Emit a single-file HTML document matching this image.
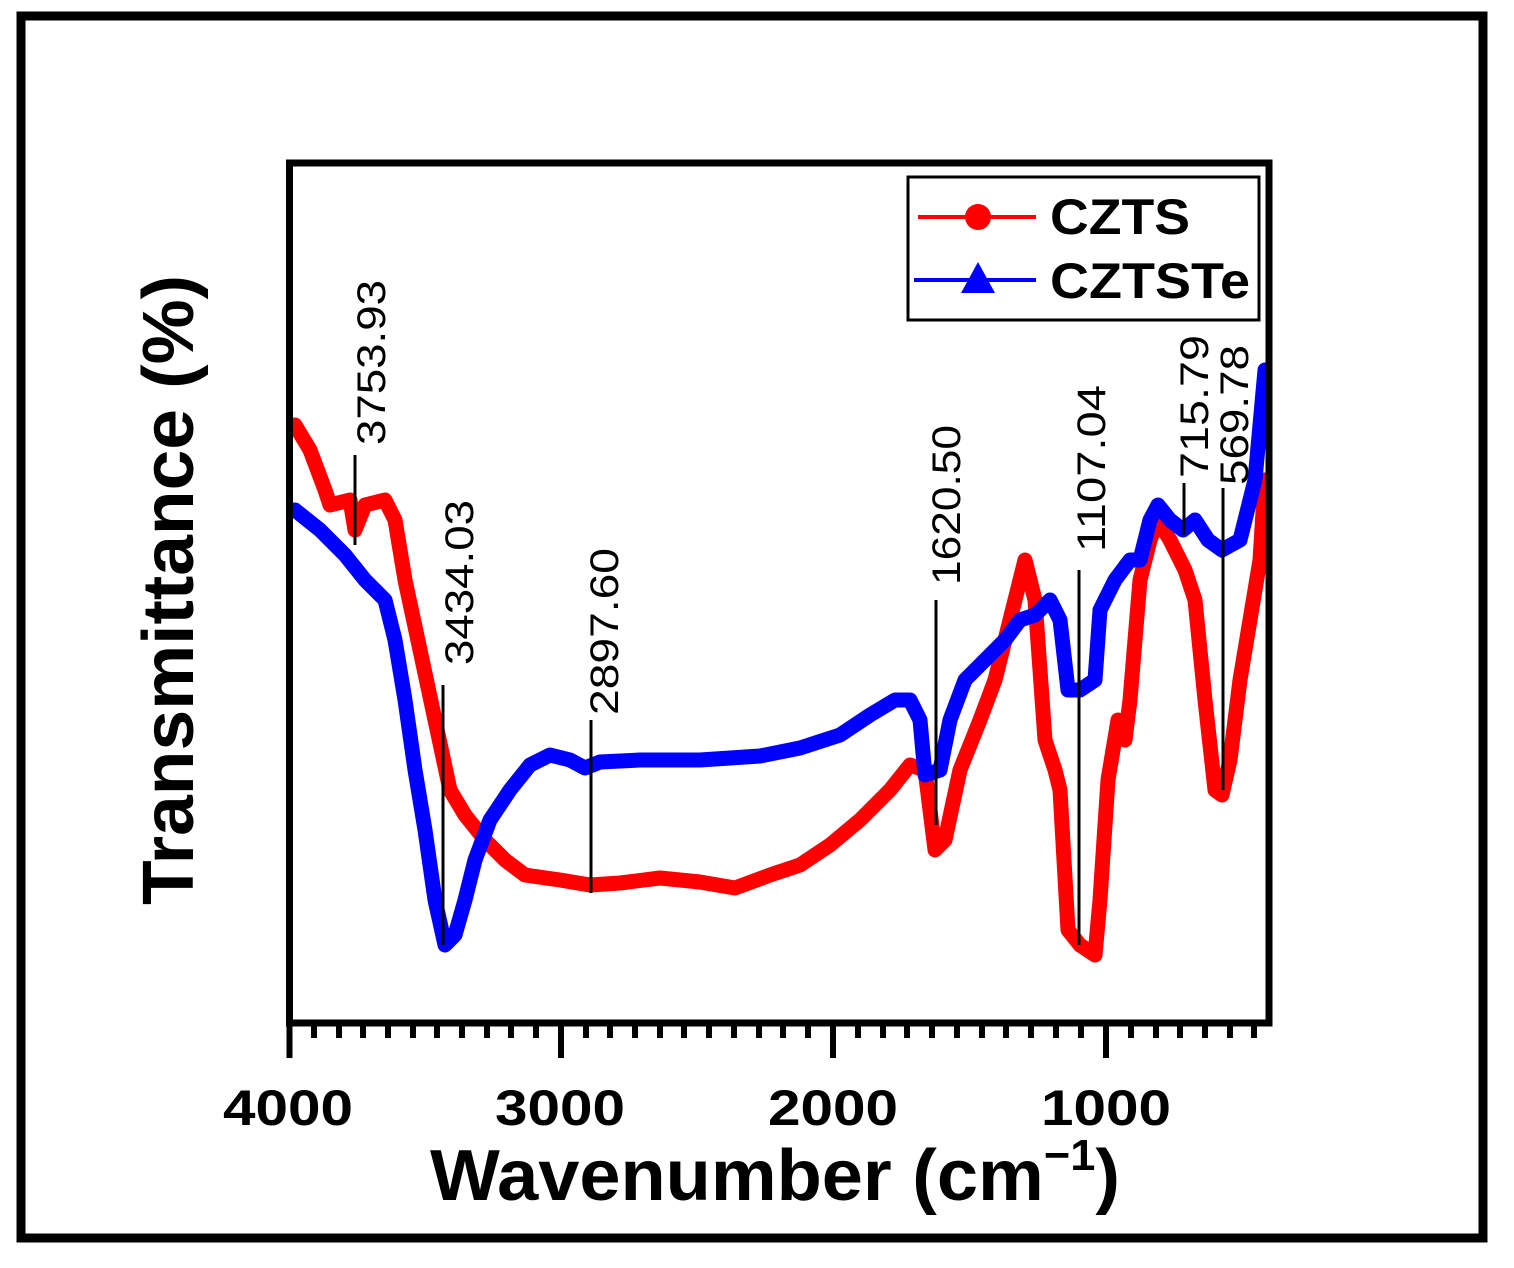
<!DOCTYPE html>
<html><head><meta charset="utf-8"><style>html,body{margin:0;padding:0;background:#fff}</style></head>
<body>
<svg width="1514" height="1263" viewBox="0 0 1514 1263" xmlns="http://www.w3.org/2000/svg">
<rect x="0" y="0" width="1514" height="1263" fill="#fff"/>
<rect x="21" y="16" width="1462" height="1222" fill="none" stroke="#000" stroke-width="9"/>
<g fill="none" stroke-linejoin="round" stroke-linecap="round">
<polyline stroke="#f00" stroke-width="15" points="295,425 310,450 325,490 330,505 350,500 355,530 365,505 385,500 395,520 405,580 420,650 435,720 450,790 465,815 485,840 505,860 525,875 560,880 590,885 620,883 660,878 700,882 735,888 770,875 800,865 830,845 860,820 890,790 910,765 925,770 935,850 945,840 960,770 980,720 995,680 1010,620 1025,560 1035,600 1045,740 1055,770 1060,790 1068,930 1080,945 1095,955 1100,900 1108,780 1118,720 1125,740 1130,700 1140,580 1150,540 1158,520 1170,540 1185,570 1195,600 1205,700 1215,790 1222,795 1230,760 1240,680 1250,620 1260,560 1265,480"/>
<polyline stroke="#00f" stroke-width="15" points="295,510 320,530 345,555 365,580 385,600 395,640 405,700 415,770 425,830 435,900 445,945 455,935 465,900 475,860 490,820 510,790 530,765 550,755 570,760 585,768 600,762 640,760 700,760 760,756 800,748 840,735 870,715 895,700 910,700 920,720 925,775 940,770 950,720 965,680 985,660 1005,640 1020,620 1035,615 1050,600 1060,620 1068,690 1080,690 1095,680 1100,610 1115,580 1130,560 1140,560 1150,520 1158,505 1170,520 1183,530 1195,520 1208,540 1222,550 1240,540 1255,480 1265,370"/>
</g>
<rect x="289.5" y="163" width="979.5" height="860" fill="none" stroke="#000" stroke-width="7"/>
<g stroke="#000" stroke-width="6">
<line x1="289.5" y1="1023" x2="289.5" y2="1058"/>
<line x1="561" y1="1023" x2="561" y2="1058"/>
<line x1="833" y1="1023" x2="833" y2="1058"/>
<line x1="1106" y1="1023" x2="1106" y2="1058"/>
</g>
<g stroke="#000" stroke-width="6">
<line x1="314" y1="1023" x2="314" y2="1038"/><line x1="339" y1="1023" x2="339" y2="1038"/><line x1="363" y1="1023" x2="363" y2="1038"/><line x1="388" y1="1023" x2="388" y2="1038"/><line x1="413" y1="1023" x2="413" y2="1038"/><line x1="437" y1="1023" x2="437" y2="1038"/><line x1="462" y1="1023" x2="462" y2="1038"/><line x1="487" y1="1023" x2="487" y2="1038"/><line x1="511" y1="1023" x2="511" y2="1038"/><line x1="536" y1="1023" x2="536" y2="1038"/>
<line x1="586" y1="1023" x2="586" y2="1038"/><line x1="610" y1="1023" x2="610" y2="1038"/><line x1="635" y1="1023" x2="635" y2="1038"/><line x1="660" y1="1023" x2="660" y2="1038"/><line x1="684" y1="1023" x2="684" y2="1038"/><line x1="709" y1="1023" x2="709" y2="1038"/><line x1="734" y1="1023" x2="734" y2="1038"/><line x1="759" y1="1023" x2="759" y2="1038"/><line x1="783" y1="1023" x2="783" y2="1038"/><line x1="808" y1="1023" x2="808" y2="1038"/>
<line x1="858" y1="1023" x2="858" y2="1038"/><line x1="883" y1="1023" x2="883" y2="1038"/><line x1="907" y1="1023" x2="907" y2="1038"/><line x1="932" y1="1023" x2="932" y2="1038"/><line x1="957" y1="1023" x2="957" y2="1038"/><line x1="982" y1="1023" x2="982" y2="1038"/><line x1="1006" y1="1023" x2="1006" y2="1038"/><line x1="1031" y1="1023" x2="1031" y2="1038"/><line x1="1056" y1="1023" x2="1056" y2="1038"/><line x1="1081" y1="1023" x2="1081" y2="1038"/>
<line x1="1131" y1="1023" x2="1131" y2="1038"/><line x1="1156" y1="1023" x2="1156" y2="1038"/><line x1="1180" y1="1023" x2="1180" y2="1038"/><line x1="1205" y1="1023" x2="1205" y2="1038"/><line x1="1230" y1="1023" x2="1230" y2="1038"/><line x1="1254" y1="1023" x2="1254" y2="1038"/>
</g>
<g font-family="Liberation Sans, sans-serif" font-weight="bold" font-size="50" text-anchor="middle">
<text x="288" y="1125" textLength="130" lengthAdjust="spacingAndGlyphs">4000</text>
<text x="560" y="1125" textLength="130" lengthAdjust="spacingAndGlyphs">3000</text>
<text x="833" y="1125" textLength="130" lengthAdjust="spacingAndGlyphs">2000</text>
<text x="1106" y="1125" textLength="130" lengthAdjust="spacingAndGlyphs">1000</text>
</g>
<text x="430" y="1200" font-family="Liberation Sans, sans-serif" font-weight="bold" font-size="72" textLength="690" lengthAdjust="spacingAndGlyphs">Wavenumber (cm<tspan font-size="44" dy="-30">−1</tspan><tspan dy="30">)</tspan></text>
<text transform="translate(193,905) rotate(-90)" font-family="Liberation Sans, sans-serif" font-weight="bold" font-size="72" textLength="630" lengthAdjust="spacingAndGlyphs">Transmittance (%)</text>
<g stroke="#000" stroke-width="3">
<line x1="355" y1="455" x2="355" y2="545"/>
<line x1="443" y1="685" x2="443" y2="945"/>
<line x1="591" y1="720" x2="591" y2="893"/>
<line x1="936" y1="600" x2="936" y2="825"/>
<line x1="1079" y1="570" x2="1079" y2="945"/>
<line x1="1184" y1="483" x2="1184" y2="535"/>
<line x1="1223" y1="488" x2="1223" y2="790"/>
</g>
<g font-family="Liberation Sans, sans-serif" font-size="40">
<text transform="translate(385,445) rotate(-90)" textLength="165" lengthAdjust="spacingAndGlyphs">3753.93</text>
<text transform="translate(473,665) rotate(-90)" textLength="165" lengthAdjust="spacingAndGlyphs">3434.03</text>
<text transform="translate(618,715) rotate(-90)" textLength="167" lengthAdjust="spacingAndGlyphs">2897.60</text>
<text transform="translate(960,585) rotate(-90)" textLength="160" lengthAdjust="spacingAndGlyphs">1620.50</text>
<text transform="translate(1105,552) rotate(-90)" textLength="167" lengthAdjust="spacingAndGlyphs">1107.04</text>
<text transform="translate(1208,478) rotate(-90)" textLength="143" lengthAdjust="spacingAndGlyphs">715.79</text>
<text transform="translate(1248,485) rotate(-90)" textLength="140" lengthAdjust="spacingAndGlyphs">569.78</text>
</g>
<rect x="908" y="177" width="351" height="143" fill="#fff" stroke="#000" stroke-width="3"/>
<line x1="918" y1="217" x2="1036" y2="217" stroke="#f00" stroke-width="4"/>
<circle cx="978" cy="217" r="13" fill="#f00"/>
<line x1="914" y1="280" x2="1036" y2="280" stroke="#00f" stroke-width="4"/>
<polygon points="978,262 995,293 961,293" fill="#00f"/>
<g font-family="Liberation Sans, sans-serif" font-size="50" font-weight="600">
<text x="1050" y="234" textLength="140" lengthAdjust="spacingAndGlyphs">CZTS</text>
<text x="1050" y="298" textLength="200" lengthAdjust="spacingAndGlyphs">CZTSTe</text>
</g>
</svg>
</body></html>
